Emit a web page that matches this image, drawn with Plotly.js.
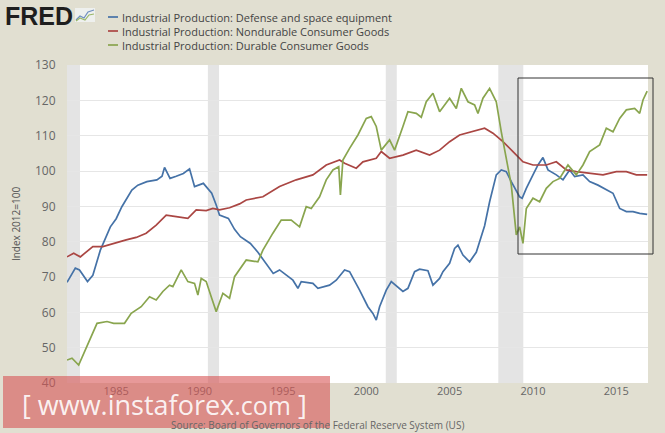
<!DOCTYPE html>
<html>
<head>
<meta charset="utf-8">
<script src="https://cdn.plot.ly/plotly-3.0.1.min.js"></script>
<style>
  body { margin: 0; background: #e1dfd1; }
  #chart { width: 665px; height: 433px; }
</style>
</head>
<body>
<div id="chart"></div>
<script>
// Values, years as decimals
var defenseYears = [1982.05, 1982.55, 1982.8, 1983.28, 1983.6, 1984.05, 1984.65, 1985.0, 1985.34, 1985.94,
  1986.3, 1986.84, 1987.44, 1987.75, 1987.9, 1988.23, 1988.6, 1989.03, 1989.4, 1989.7,
  1990.23, 1990.73, 1991.0, 1991.2, 1991.73, 1992.1, 1992.45, 1993.05, 1993.5, 1993.82,
  1994.42, 1994.8, 1995.2, 1995.6, 1995.9, 1996.1, 1996.8, 1997.1, 1997.8, 1998.2,
  1998.7, 1999.0, 1999.6, 2000.1, 2000.4, 2000.6, 2000.8, 2001.2, 2001.5, 2002.2,
  2002.5, 2002.9, 2003.2, 2003.7, 2004.0, 2004.4, 2004.6, 2005.0, 2005.3, 2005.5,
  2005.8, 2006.2, 2006.6, 2006.9, 2007.1, 2007.4, 2007.8, 2008.1, 2008.4, 2008.7,
  2009.2, 2009.35, 2009.6, 2010.0, 2010.3, 2010.6, 2010.9, 2011.4, 2011.8, 2012.2,
  2012.5, 2013.0, 2013.4, 2013.9, 2014.4, 2014.8, 2015.2, 2015.6, 2016.0, 2016.4, 2016.85];
var defenseValues = [68.5, 72.5, 72, 68.7, 70.5, 77.6, 84.2, 86.5, 89.9, 94.6,
  96, 97, 97.5, 98.5, 101, 97.9, 98.5, 99.3, 100.6, 95.6,
  96.5, 93.7, 90.4, 87.5, 86.6, 83.5, 81.4, 79.5, 77, 74.8,
  71.0, 72, 70.5, 69.1, 66.8, 68.7, 68.2, 66.8, 67.7, 69.1,
  72, 71.5, 66.3, 61.6, 59.7, 57.8, 61.6, 66.3, 68.7, 65.9,
  66.8, 71.5, 72.2, 71.8, 67.7, 69.6, 71.5, 73.9, 78.1, 79,
  76.2, 74.3, 77, 81.4, 84.5, 91.3, 98.9, 100.3, 99.8, 97,
  92.7, 92.3, 95.1, 98.9, 101.7, 103.8, 100.3, 98.9, 97.5, 100.3,
  98.4, 98.9, 97, 96, 94.6, 93.7, 89.4, 88.5, 88.5, 88, 87.7];

var nondurableYears = [1982.05, 1982.45, 1982.85, 1983.6, 1984.2, 1984.8, 1985.6, 1986.2, 1986.8, 1987.4,
  1988.0, 1988.6, 1989.3, 1989.8, 1990.4, 1990.8, 1991.2, 1991.8, 1992.4, 1992.8,
  1993.8, 1994.8, 1995.8, 1996.8, 1997.6, 1998.4, 1998.7, 1999.4, 1999.8, 2000.6,
  2000.9, 2001.4, 2002.2, 2003.0, 2003.8, 2004.4, 2005.0, 2005.6, 2006.2, 2007.1,
  2007.6, 2008.2, 2008.8, 2009.4, 2010.0, 2010.8, 2011.4, 2012.0, 2012.6, 2013.4,
  2014.2, 2015.0, 2015.6, 2016.2, 2016.85];
var nondurableValues = [75.7, 76.7, 75.7, 78.6, 78.6, 79.5, 80.5, 81.2, 82.4, 84.7,
  87.5, 87.1, 86.6, 89, 88.8, 89.4, 89, 89.6, 90.7, 91.8,
  92.7, 95.6, 97.5, 98.9, 101.7, 103.1, 102.2, 100.8, 102.6, 103.6,
  105.5, 103.6, 104.5, 105.9, 104.5, 105.9, 108.3, 110.2, 111, 112.1,
  110.7, 108.3, 105.5, 102.6, 101.7, 101.7, 102.6, 100.3, 99.8, 99.3,
  98.9, 99.8, 99.8, 98.9, 98.9];

var durableYears = [1982.05, 1982.35, 1982.75, 1983.25, 1983.85, 1984.45, 1984.85, 1985.5, 1985.9, 1986.5,
  1987.0, 1987.4, 1987.8, 1988.2, 1988.4, 1988.9, 1989.3, 1989.7, 1989.9, 1990.1,
  1990.4, 1990.7, 1991.0, 1991.4, 1991.8, 1992.1, 1992.8, 1993.5, 1993.8, 1994.4,
  1994.9, 1995.5, 1996.0, 1996.4, 1996.7, 1997.2, 1997.6, 1998.0, 1998.35, 1998.45,
  1998.6, 1999.0, 1999.5, 2000.0, 2000.3, 2000.6, 2000.9, 2001.4, 2001.7, 2002.2,
  2002.5, 2003.0, 2003.3, 2003.6, 2004.0, 2004.4, 2005.0, 2005.4, 2005.7, 2006.1,
  2006.5, 2006.7, 2007.0, 2007.4, 2007.8, 2008.1, 2008.4, 2008.7, 2009.0, 2009.2,
  2009.4, 2009.6, 2010.0, 2010.4, 2010.8, 2011.2, 2011.6, 2012.1, 2012.6, 2013.0,
  2013.4, 2014.0, 2014.4, 2014.8, 2015.2, 2015.6, 2016.1, 2016.4, 2016.6, 2016.85];
var durableValues = [46.5, 47, 45.1, 50.3, 56.9, 57.4, 56.9, 56.9, 59.7, 61.6,
  64.4, 63.5, 65.9, 67.7, 67.3, 72, 68.7, 68.2, 64.9, 69.6,
  68.7, 64.4, 60.2, 65.4, 64, 70.1, 74.8, 74.3, 77.6, 82.4,
  86.1, 86.1, 84.2, 89.9, 89.4, 92.7, 97.5, 100.3, 101.2, 93.2,
  103.1, 106.4, 110.2, 114.9, 115.4, 112.6, 105.9, 108.8, 105.9, 112.6,
  116.8, 116.3, 115.2, 119.6, 122, 116.8, 120.6, 117.7, 123.4, 119.6,
  118.7, 116.3, 120.6, 123.4, 119.6, 111.1, 103.6, 96, 81.9, 84.2,
  79.5, 89.4, 92.3, 91.3, 95.1, 97, 97.9, 101.7, 98.9, 101.7,
  105.5, 107.4, 112.1, 111.1, 114.9, 117.3, 117.7, 116.3, 120.1, 122.6];

var seriesNames = [
  'Industrial Production: Defense and space equipment',
  'Industrial Production: Nondurable Consumer Goods',
  'Industrial Production: Durable Consumer Goods'
];
var seriesColors = ['#4572a7', '#aa4643', '#89a54e'];

// recession periods (start, end)
var recessions = [[1982.05, 1982.83], [1990.5, 1991.17], [2001.17, 2001.83], [2007.92, 2009.42]];

var xTicks = [1985, 1990, 1995, 2000, 2005, 2010, 2015];

var data = [
  { x: defenseYears, y: defenseValues },
  { x: nondurableYears, y: nondurableValues },
  { x: durableYears, y: durableValues }
].map(function (s, i) {
  return {
    x: s.x, y: s.y, type: 'scatter', mode: 'lines', name: seriesNames[i],
    line: { color: seriesColors[i], width: 1.7 }, hoverinfo: 'skip'
  };
});

var shapes = recessions.map(function (r) {
  return {
    type: 'rect', xref: 'x', yref: 'paper', x0: r[0], x1: r[1], y0: 0, y1: 1,
    fillcolor: '#e4e4e4', line: { width: 0 }, layer: 'below'
  };
});

// plot area in pixels: left 67, right 648, top 65, bottom 383
function px(x) { return (x - 67) / 581; }
function py(y) { return (383 - y) / 318; }

var annotations = [];
// legend built by hand so the sample lines stay short
seriesNames.forEach(function (name, i) {
  var yy = 17 + i * 14;
  shapes.push({
    type: 'line', xref: 'paper', yref: 'paper',
    x0: px(108), x1: px(118), y0: py(yy), y1: py(yy),
    line: { color: seriesColors[i], width: 1.7 }
  });
  annotations.push({
    xref: 'paper', yref: 'paper', x: px(120), y: py(yy), xanchor: 'left', yanchor: 'middle',
    text: name, showarrow: false, font: { family: 'Open Sans', size: 11, color: '#444' }
  });
});

// FRED logo
annotations.push({
  xref: 'paper', yref: 'paper', x: px(3), y: py(16), xanchor: 'left', yanchor: 'middle',
  text: '<b>FRED</b>', showarrow: false,
  font: { family: 'Liberation Sans', size: 25, color: '#1e1e1e' }
});
shapes.push({
  type: 'rect', xref: 'paper', yref: 'paper', x0: px(75), x1: px(95), y0: py(22), y1: py(8),
  fillcolor: '#eef0ee', line: { width: 0 }
});
shapes.push({
  type: 'path', xref: 'paper', yref: 'paper',
  path: 'M' + px(76) + ',' + py(20) + ' L' + px(80) + ',' + py(16) + ' L' + px(84) + ',' + py(18) +
    ' L' + px(88) + ',' + py(12) + ' L' + px(94) + ',' + py(10),
  line: { color: '#6f8fbf', width: 1.2 }
});
shapes.push({
  type: 'path', xref: 'paper', yref: 'paper',
  path: 'M' + px(76) + ',' + py(21) + ' L' + px(80) + ',' + py(18) + ' L' + px(85) + ',' + py(20) +
    ' L' + px(89) + ',' + py(15) + ' L' + px(94) + ',' + py(14),
  line: { color: '#9bb86a', width: 1.2 }
});

// highlight box
shapes.push({
  type: 'rect', xref: 'paper', yref: 'paper', x0: px(518), x1: px(653), y0: py(254), y1: py(78),
  line: { color: '#333', width: 1 }, fillcolor: 'rgba(0,0,0,0)'
});

// source line
annotations.push({
  xref: 'paper', yref: 'paper', x: px(317), y: py(425), xanchor: 'center', yanchor: 'middle',
  text: 'Source: Board of Governors of the Federal Reserve System (US)', showarrow: false,
  font: { family: 'Open Sans', size: 10, color: '#666' }
});

// watermark banner
shapes.push({
  type: 'rect', xref: 'paper', yref: 'paper', x0: px(3), x1: px(330), y0: py(428), y1: py(376),
  fillcolor: 'rgba(215,85,85,0.6)', line: { width: 0 }
});
annotations.push({
  xref: 'paper', yref: 'paper', x: px(164), y: py(404), xanchor: 'center', yanchor: 'middle',
  text: '[ www.instaforex<span style="font-size:25px">.com</span> ]', showarrow: false,
  font: { family: 'Open Sans', size: 27, color: 'rgba(255,255,255,0.9)' }
});

var layout = {
  width: 665, height: 433,
  margin: { l: 67, r: 17, t: 65, b: 50 },
  paper_bgcolor: '#e1dfd1',
  plot_bgcolor: '#ffffff',
  showlegend: false,
  font: { family: 'Open Sans', color: '#666' },
  xaxis: {
    range: [1982.05, 2016.9], tickvals: xTicks, ticktext: xTicks.map(String),
    showgrid: false, zeroline: false, showline: false, ticks: '',
    tickfont: { size: 11, color: '#666' }
  },
  yaxis: {
    range: [40, 130], dtick: 10, gridcolor: '#e6e6e6', gridwidth: 1,
    zeroline: false, showline: false, ticks: 'outside', ticklen: 8, tickcolor: 'rgba(0,0,0,0)',
    tickfont: { size: 12, color: '#666' },
    title: { text: 'Index 2012=100', font: { size: 10, color: '#555' }, standoff: 12 }
  },
  shapes: shapes,
  annotations: annotations
};

Plotly.newPlot('chart', data, layout, { displayModeBar: false, staticPlot: true });
</script>
</body>
</html>
